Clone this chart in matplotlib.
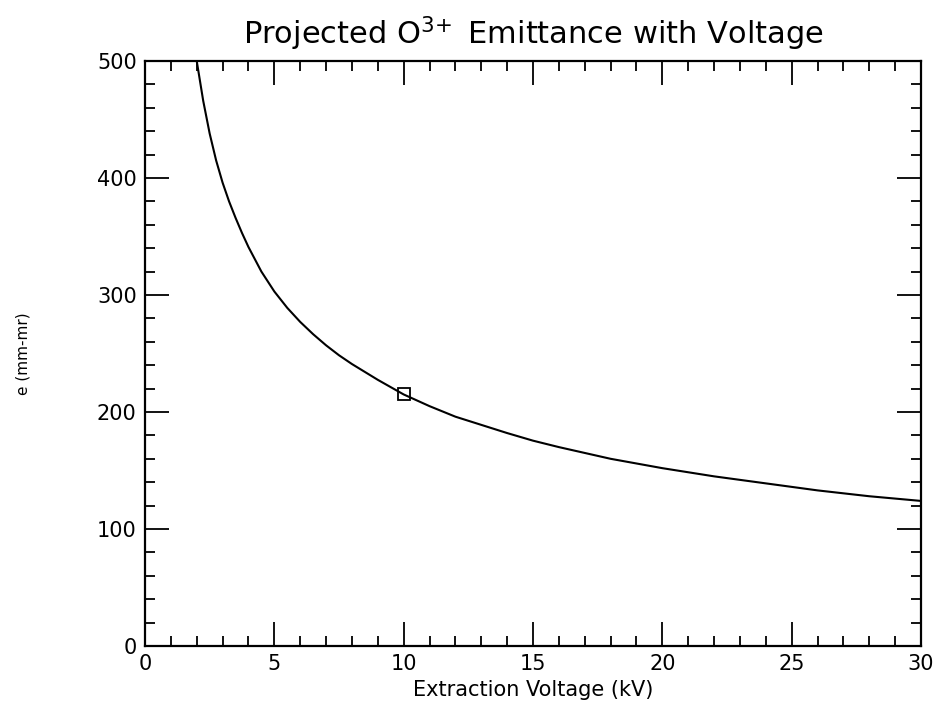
import matplotlib
matplotlib.use("Agg")
import matplotlib.pyplot as plt
from matplotlib.ticker import MultipleLocator

# values
voltage = [2.0, 2.25, 2.5, 2.75, 3.0, 3.25, 3.5, 3.75, 4.0, 4.5, 5.0, 5.5,
           6.0, 6.5, 7.0, 7.5, 8.0, 9.0, 10, 11, 12, 13, 14, 15, 16, 17,
           18, 19, 20, 22, 24, 26, 28, 30]
emittance = [500, 466, 438, 415, 396, 380, 366, 353, 341, 320, 303, 289,
             277, 266.5, 257, 248.5, 241, 227.5, 215, 205, 196, 189, 182, 175.5, 170, 165,
             160, 156, 152, 145, 139, 133, 128, 124]
point_v = [10]
point_e = [215]

plt.rcParams['font.family'] = ['DejaVu Sans']

fig = plt.figure(figsize=(9.37, 7.10), dpi=100)
ax = fig.add_axes([145 / 937, 64 / 710, 776 / 937, 585 / 710])

ax.plot(voltage, emittance, 'k-', lw=1.5)
ax.plot(point_v, point_e, 's', mfc='none', mec='k', ms=9, mew=1.3)

ax.set_xlim(0, 30)
ax.set_ylim(0, 500)
ax.xaxis.set_major_locator(MultipleLocator(5))
ax.xaxis.set_minor_locator(MultipleLocator(1))
ax.yaxis.set_major_locator(MultipleLocator(100))
ax.yaxis.set_minor_locator(MultipleLocator(20))
ax.tick_params(which='both', direction='in', top=True, right=True,
               labelsize=15, width=1.3, pad=6)
ax.tick_params(which='major', length=17)
ax.tick_params(which='minor', length=7)
for sp in ax.spines.values():
    sp.set_linewidth(1.6)

ax.set_title(r'Projected O$^{3\!+}$ Emittance with Voltage', fontsize=22, pad=12)
ax.set_xlabel('Extraction Voltage (kV)', fontsize=15, labelpad=4)
ax.set_ylabel('e (mm-mr)', fontsize=11, labelpad=48)

fig.savefig('out.png', dpi=100)
